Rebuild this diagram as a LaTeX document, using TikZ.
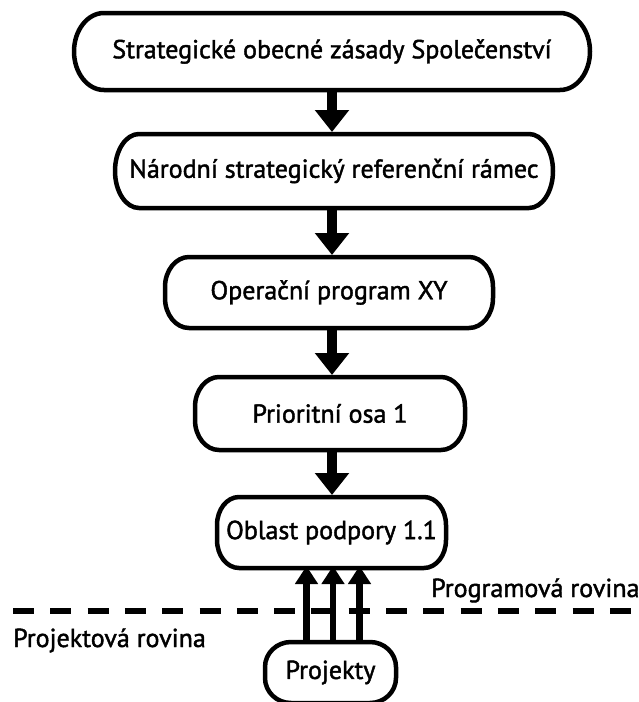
\documentclass[tikz,border=0pt]{standalone}
\usepackage{fontspec}
\setmainfont{PT Sans}[FakeBold=1.6]
\usetikzlibrary{arrows.meta}
\tikzset{
  boxnode/.style={draw=none, inner sep=0pt, outer sep=0pt, align=center,
    font=\fontsize{26}{30}\selectfont},
  outline/.style={line width=4.5pt, line join=round},
  bigarrow/.style={line width=10.5pt, -{Triangle[width=33pt,length=22pt]}},
  smallarrow/.style={line width=6.5pt, -{Triangle[width=22pt,length=18pt]}},
  levelline/.style={line width=5.5pt, dash pattern=on 21pt off 16.3pt},
  lbl/.style={inner sep=0pt, font=\fontsize{26}{30}\selectfont}
}
\newcommand\ovalbox[3]{%
  \draw[outline] ([xshift=#2]#1.north west) -- ([xshift=-#2]#1.north east)
    arc[start angle=90,end angle=0,x radius=#2,y radius=#3]
    -- ([yshift=#3]#1.south east)
    arc[start angle=0,end angle=-90,x radius=#2,y radius=#3]
    -- ([xshift=#2]#1.south west)
    arc[start angle=-90,end angle=-180,x radius=#2,y radius=#3]
    -- ([yshift=-#3]#1.north west)
    arc[start angle=180,end angle=90,x radius=#2,y radius=#3] -- cycle;}
\begin{document}
\begin{tikzpicture}[x=1pt,y=-1pt]
\useasboundingbox (0,0) rectangle (639,702);
\begin{scope}
\clip (0,0) rectangle (639,702);
\node[boxnode, minimum width=516pt, minimum height=77pt] (b1) at (332,51.5) {Strategické obecné zásady Společenství};
\node[boxnode, minimum width=438pt, minimum height=74pt] (b2) at (334,171) {Národní strategický referenční rámec};
\node[boxnode, minimum width=328pt, minimum height=71pt] (b3) at (329,292.5) {Operační program XY};
\node[boxnode, minimum width=270pt, minimum height=73pt] (b4) at (330,413.5) {Prioritní osa 1};
\node[boxnode, minimum width=229pt, minimum height=71pt] (b5) at (331.5,532.5) {Oblast podpory 1.1};
\node[boxnode, minimum width=131pt, minimum height=61pt] (p) at (330.5,672.5) {Projekty};
\ovalbox{b1}{30pt}{38.5pt}
\ovalbox{b2}{24pt}{37pt}
\ovalbox{b3}{24pt}{30pt}
\ovalbox{b4}{24pt}{30pt}
\ovalbox{b5}{22pt}{28pt}
\ovalbox{p}{26pt}{25pt}
\draw[bigarrow] (b1.south) -- ([yshift=2pt]b1.south |- b2.north);
\draw[bigarrow] (b2.south -| b1.south) -- ([yshift=2pt]b1.south |- b3.north);
\draw[bigarrow] (b3.south -| b1.south) -- ([yshift=2pt]b1.south |- b4.north);
\draw[bigarrow] (b4.south -| b1.south) -- ([yshift=2pt]b1.south |- b5.north);
\coordinate (s1) at ([xshift=-24pt]p.north);
\coordinate (s2) at ([xshift=2.5pt]p.north);
\coordinate (s3) at ([xshift=29pt]p.north);
\draw[smallarrow] (s1) -- ([yshift=2pt]b5.south -| s1);
\draw[smallarrow] (s2) -- ([yshift=2pt]b5.south -| s2);
\draw[smallarrow] (s3) -- ([yshift=2pt]b5.south -| s3);
\coordinate (dl) at (13,611);
\coordinate (dr) at (632,611);
\draw[levelline] (dl) -- (dr);
\node[lbl, anchor=base west] (prog) at (431,597) {Programová rovina};
\node[lbl, anchor=base west] (proj) at (13,647) {Projektová rovina};
\end{scope}
\end{tikzpicture}
\end{document}
